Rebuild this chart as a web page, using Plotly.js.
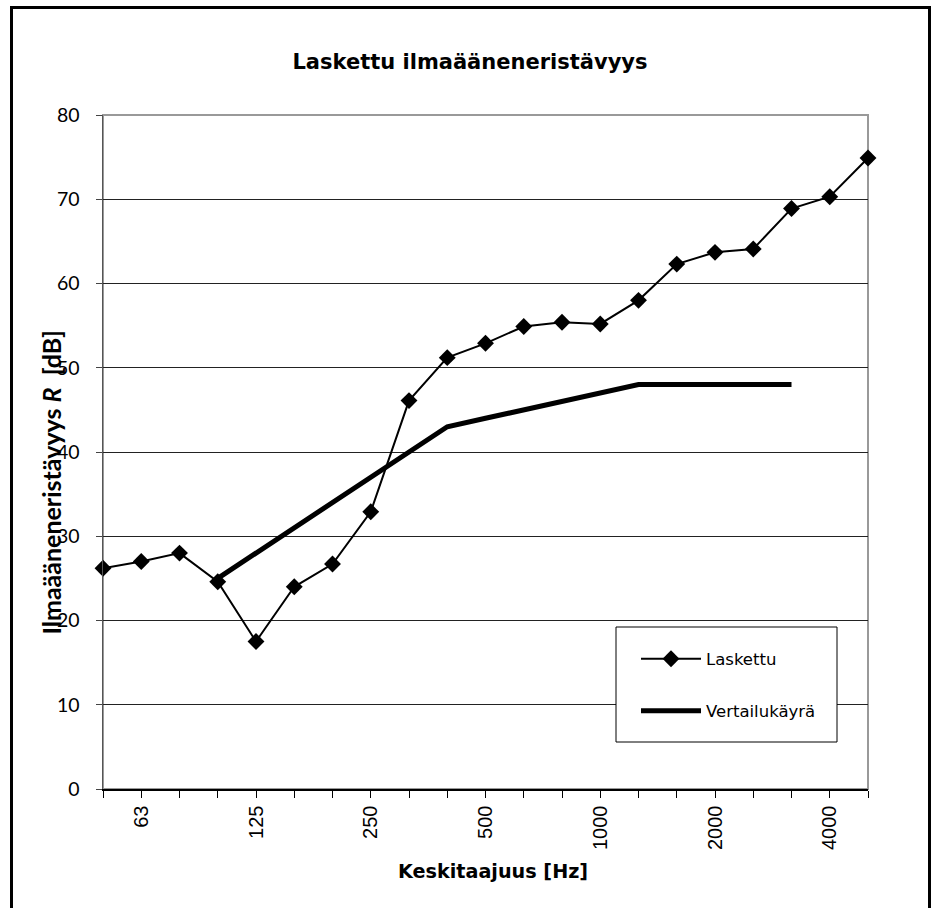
<!DOCTYPE html>
<html><head><meta charset="utf-8">
<script src="https://cdn.plot.ly/plotly-3.0.1.min.js"></script>
<style>html,body{margin:0;padding:0;background:#fff}#chart{width:937px;height:908px}</style>
</head><body><div id="chart"></div>
<script>
const categories = ['50','63','80','100','125','160','200','250','315','400','500','630','800','1000','1250','1600','2000','2500','3150','4000','5000'];
const tickLabels = ['','63','','','125','','','250','','','500','','','1000','','','2000','','','4000',''];
const laskettu = [26.2,27.0,28.0,24.6,17.5,24.0,26.7,32.9,46.1,51.2,52.9,54.9,55.4,55.2,58.0,62.3,63.7,64.1,68.9,70.3,74.9];
const vertailuFreq = ['100','125','160','200','250','315','400','500','630','800','1000','1250','1600','2000','2500','3150'];
const vertailu = [25,28,31,34,37,40,43,44,45,46,47,48,48,48,48,48];
const yTicks = [0,10,20,30,40,50,60,70,80];

const traces = [
  {x: categories, y: laskettu, name: 'Laskettu', type: 'scatter', mode: 'lines+markers',
   line: {color: '#000', width: 2}, marker: {symbol: 'diamond', size: 13, color: '#000'},
   cliponaxis: false, legend: 'legend'},
  {x: vertailuFreq, y: vertailu, name: 'Vertailukäyrä', type: 'scatter', mode: 'lines',
   line: {color: '#000', width: 5}, cliponaxis: false, legend: 'legend2'}
];

const layout = {
  width: 937, height: 908,
  margin: {l: 103, r: 69, t: 115, b: 119},
  paper_bgcolor: '#fff', plot_bgcolor: '#fff',
  showlegend: true,
  title: {text: '<b>Laskettu ilmaääneneristävyys</b>', font: {family: 'DejaVu Sans', size: 21, color: '#000'},
          x: 0.5016, xref: 'container', xanchor: 'center', y: 1 - 62/908, yref: 'container', yanchor: 'middle'},
  xaxis: {type: 'category', categoryorder: 'array', categoryarray: categories,
          range: [0, 20], tickmode: 'array', tickvals: categories, ticktext: tickLabels,
          tickangle: -90, ticks: 'outside', ticklen: 7, tickwidth: 1, tickcolor: '#000',
          showline: true, linecolor: '#000', linewidth: 1.5, showgrid: false, zeroline: false,
          tickfont: {family: 'Liberation Sans, Arial', size: 20, color: '#000'}, fixedrange: true},
  yaxis: {range: [0, 80], tickmode: 'array', tickvals: yTicks, ticks: 'outside', ticklen: 6, tickwidth: 1, tickcolor: '#444',
          showline: true, linecolor: '#555', linewidth: 1.5, showgrid: true, gridcolor: '#222', gridwidth: 1,
          zeroline: false, ticklabelstandoff: 12,
          tickfont: {family: 'Lato', size: 19.5, color: '#000'}, fixedrange: true},
  shapes: [
    {type: 'rect', xref: 'paper', yref: 'paper', x0: 0, x1: 1, y0: 0, y1: 1,
     line: {color: '#999', width: 2}, layer: 'below'},
    {type: 'rect', xref: 'paper', yref: 'paper', x0: (616-103)/765, x1: (837-103)/765, y0: (789-742)/674, y1: (789-627)/674,
     line: {color: '#000', width: 1}, fillcolor: '#fff', layer: 'above'},
    {type: 'rect', xref: 'paper', yref: 'paper', x0: (11.5-103)/765, x1: (929.5-103)/765, y0: (789-920)/674, y1: (789-7.5)/674,
     line: {color: '#000', width: 3}, layer: 'above'}
  ],
  annotations: [
    {text: '<b>Ilmaääneneristävyys <i>R</i>&nbsp; [dB]</b>', xref: 'paper', yref: 'paper',
     x: (51-103)/765, y: (789-482.5)/674, xanchor: 'center', yanchor: 'middle', textangle: -90, showarrow: false,
     font: {family: 'Lato', size: 25, color: '#000'}},
    {text: '<b>Keskitaajuus [Hz]</b>', xref: 'paper', yref: 'paper',
     x: (493-103)/765, y: (789-871)/674, xanchor: 'center', yanchor: 'middle', showarrow: false,
     font: {family: 'DejaVu Sans', size: 19.2, color: '#000'}}
  ],
  legend: {x: (636-103)/765, y: (789-659)/674, xanchor: 'left', yanchor: 'middle', bgcolor: 'rgba(0,0,0,0)',
           borderwidth: 0, itemwidth: 60, font: {family: 'DejaVu Sans', size: 16.5, color: '#000'}},
  legend2: {x: (636-103)/765, y: (789-711)/674, xanchor: 'left', yanchor: 'middle', bgcolor: 'rgba(0,0,0,0)',
           borderwidth: 0, itemwidth: 60, font: {family: 'DejaVu Sans', size: 16.5, color: '#000'}}
};

Plotly.newPlot('chart', traces, layout, {displayModeBar: false, staticPlot: true});
</script></body></html>
